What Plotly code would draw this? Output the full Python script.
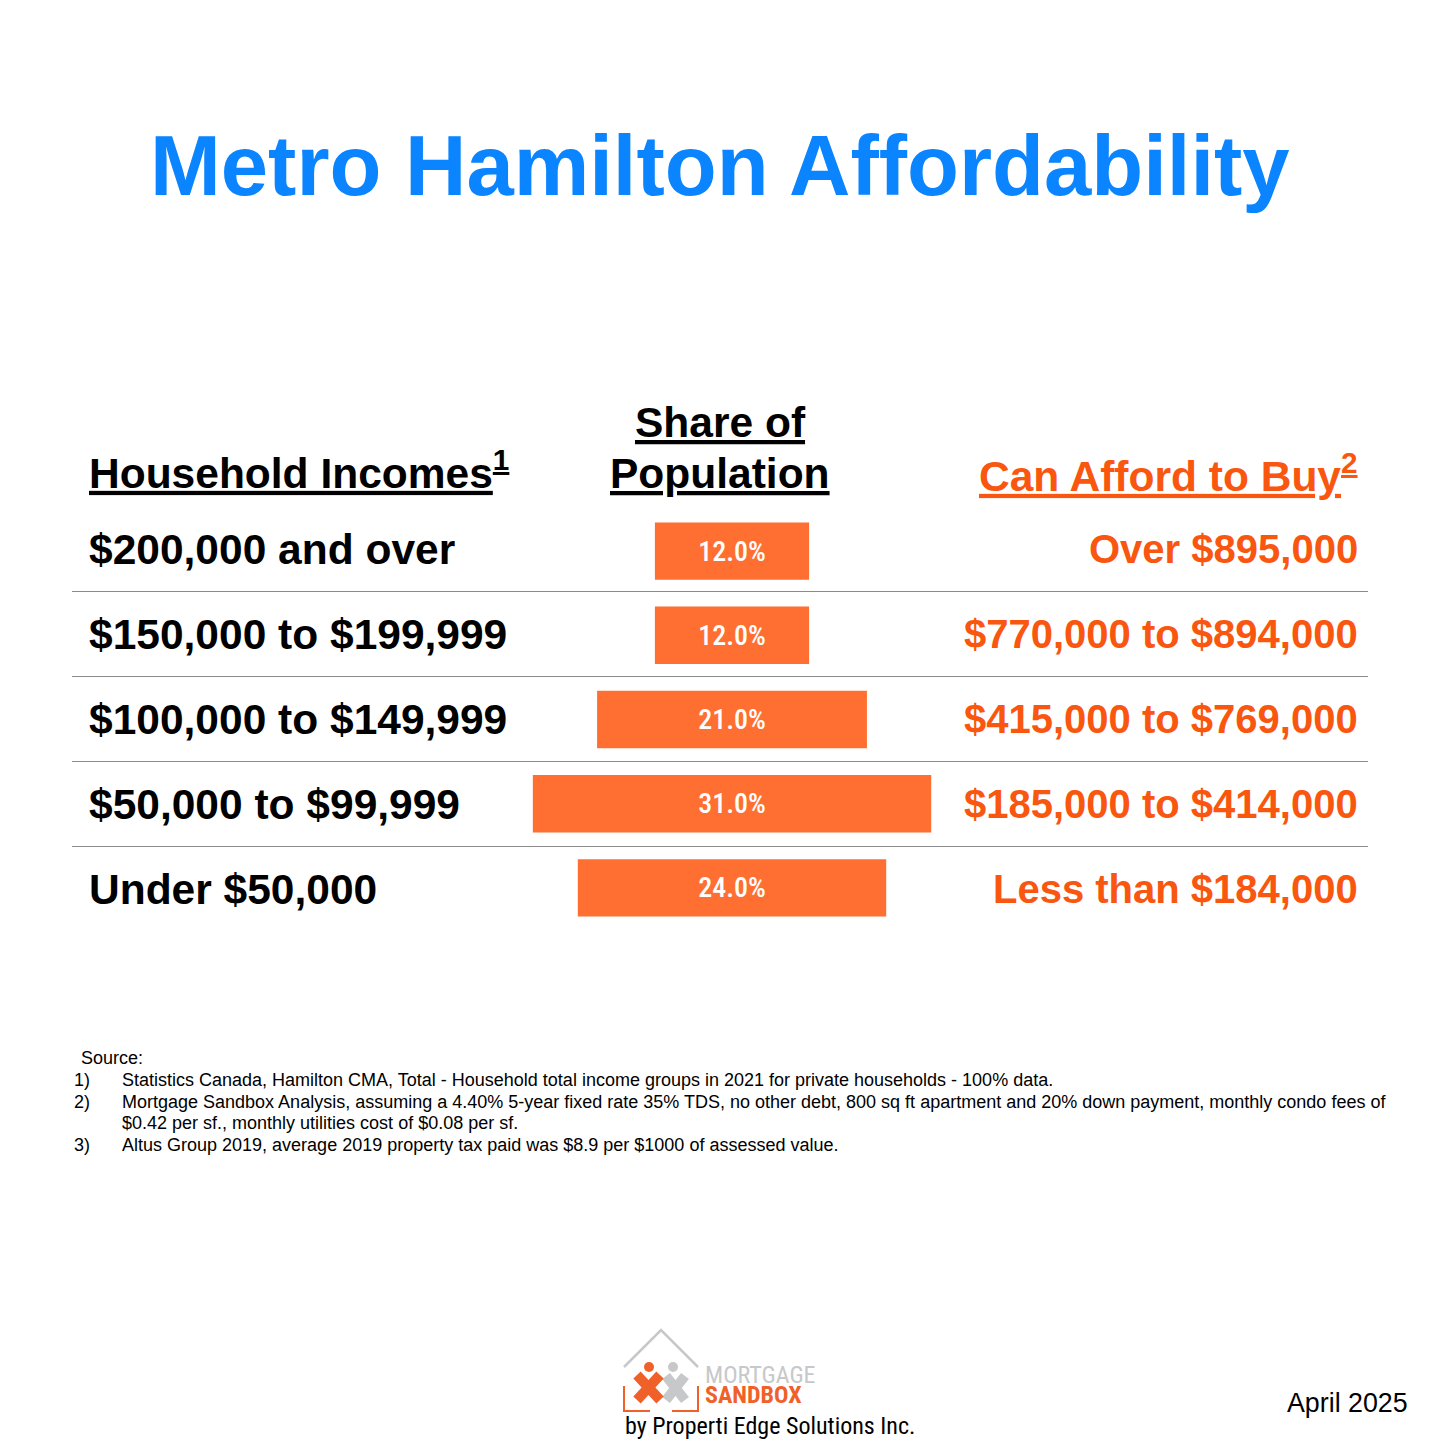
import plotly.graph_objects as go

# values
incomes = ["$200,000 and over", "$150,000 to $199,999", "$100,000 to $149,999", "$50,000 to $99,999", "Under $50,000"]
shares = [12.0, 12.0, 21.0, 31.0, 24.0]
afford = ["Over $895,000", "$770,000 to $894,000", "$415,000 to $769,000", "$185,000 to $414,000", "Less than $184,000"]

footnote_marks = ["1)", "2)", "", "3)"]
footnotes = [
    "Statistics Canada, Hamilton CMA, Total - Household total income groups in 2021 for private households - 100% data.",
    "Mortgage Sandbox Analysis, assuming a 4.40% 5-year fixed rate 35% TDS, no other debt, 800 sq ft apartment and 20% down payment, monthly condo fees of",
    "$0.42 per sf., monthly utilities cost of $0.08 per sf.",
    "Altus Group 2019, average 2019 property tax paid was $8.9 per $1000 of assessed value.",
]

SIZE = 1440
ARIAL = "Liberation Sans, Arial, sans-serif"
NARROW = "Roboto Condensed, Liberation Sans Narrow, DejaVu Sans Condensed, sans-serif"
BLUE = "#0A84FF"
ORANGE = "#F9560F"
BAR = "#FF6F31"
LOGO_GREY = "#C6C8CA"
LOGO_ORANGE = "#F0612A"


def px_x(x):
    return x / SIZE


def px_y(y):
    return 1 - y / SIZE


def label(x, y, text, size, color="black", anchor="left", font=ARIAL, bold=False):
    if bold:
        text = f"<b>{text}</b>"
    return dict(
        xref="paper", yref="paper", x=px_x(x), y=px_y(y), text=text, showarrow=False,
        xanchor=anchor, yanchor="middle", align=anchor, borderpad=0, borderwidth=0,
        font=dict(family=font, size=size, color=color),
    )


def logo_line(points, color, width):
    path = "M " + " L ".join(f"{px_x(x)},{px_y(y)}" for x, y in points)
    return dict(type="path", xref="paper", yref="paper", path=path, line=dict(color=color, width=width))


def logo_dot(x, y, r, color):
    return dict(type="circle", xref="paper", yref="paper", x0=px_x(x - r), x1=px_x(x + r),
                y0=px_y(y + r), y1=px_y(y - r), fillcolor=color, line=dict(width=0))


fig = go.Figure()

# centred bars, base is half the share to the left
fig.add_trace(go.Bar(
    y=incomes,
    x=shares,
    base=[-s / 2 for s in shares],
    orientation="h",
    marker=dict(color=BAR, line=dict(width=0)),
    text=[f"{s:.1f}%" for s in shares],
    textposition="inside",
    insidetextanchor="middle",
    textangle=0,
    constraintext="none",
    textfont=dict(family=NARROW, size=28, color="white", weight=500),
    hoverinfo="skip",
))

annotations = [
    label(720, 165, "Metro Hamilton Affordability", 85, BLUE, "center", bold=True),
    label(89, 470, "<u>Household Incomes<sup>1</sup></u>", 42.5, bold=True),
    label(720, 422, "<u>Share of</u>", 42.5, anchor="center", bold=True),
    label(720, 473, "<u>Population</u>", 42.5, anchor="center", bold=True),
    label(1358, 473, "<u>Can Afford to Buy<sup>2</sup></u>", 42.5, ORANGE, "right", bold=True),
    label(81, 1058, "Source:", 18),
    label(1287, 1403, "April 2025", 26.8),
    label(705, 1375, "MORTGAGE", 24, LOGO_GREY, font=NARROW),
    label(705, 1395, "SANDBOX", 24, LOGO_ORANGE, font=NARROW, bold=True),
    label(625, 1426, "by Properti Edge Solutions Inc.", 24, font=NARROW),
]

# text rows sit on a slightly wider pitch than the bars
for i, (income, buy) in enumerate(zip(incomes, afford)):
    row_y = 549 + i * 85
    annotations.append(label(89, row_y, income, 42.5, bold=True))
    annotations.append(label(1358, row_y, buy, 40, ORANGE, "right", bold=True))

for i, (mark, note) in enumerate(zip(footnote_marks, footnotes)):
    line_y = 1080 + i * 21.5
    if mark:
        annotations.append(label(74, line_y, mark, 18))
    annotations.append(label(122, line_y, note, 18))

shapes = [
    dict(type="line", xref="paper", yref="paper", x0=px_x(72), x1=px_x(1368),
         y0=px_y(591.5 + i * 85), y1=px_y(591.5 + i * 85), line=dict(color="#8A8A8A", width=1))
    for i in range(len(incomes) - 1)
]

# logo
shapes += [
    logo_line([(624, 1367), (661, 1330), (698, 1367)], LOGO_GREY, 2.5),
    logo_line([(624, 1386), (624, 1411), (650, 1411)], LOGO_ORANGE, 2),
    logo_line([(672, 1411), (698, 1411), (698, 1386)], LOGO_ORANGE, 2),
    logo_line([(666, 1376), (685, 1400)], LOGO_GREY, 10),
    logo_line([(685, 1376), (666, 1400)], LOGO_GREY, 10),
    logo_dot(673, 1367, 5, LOGO_GREY),
    logo_line([(637, 1375), (660, 1400)], LOGO_ORANGE, 10),
    logo_line([(660, 1375), (637, 1400)], LOGO_ORANGE, 10),
    logo_dot(649, 1367, 5, LOGO_ORANGE),
]

PX_PER_PCT = 12.85
fig.update_layout(
    width=SIZE,
    height=SIZE,
    margin=dict(l=0, r=0, t=0, b=0),
    paper_bgcolor="white",
    plot_bgcolor="white",
    showlegend=False,
    bargap=0.32,
    annotations=annotations,
    shapes=shapes,
    xaxis=dict(visible=False, range=[-732 / PX_PER_PCT, (SIZE - 732) / PX_PER_PCT], domain=[0, 1], fixedrange=True),
    yaxis=dict(visible=False, type="category", categoryorder="array", categoryarray=incomes,
               range=[4.5, -0.5], domain=[px_y(930.1), px_y(508.9)], fixedrange=True),
)

fig.write_html("out.html", config=dict(displayModeBar=False), post_script="document.body.style.margin='0';")
